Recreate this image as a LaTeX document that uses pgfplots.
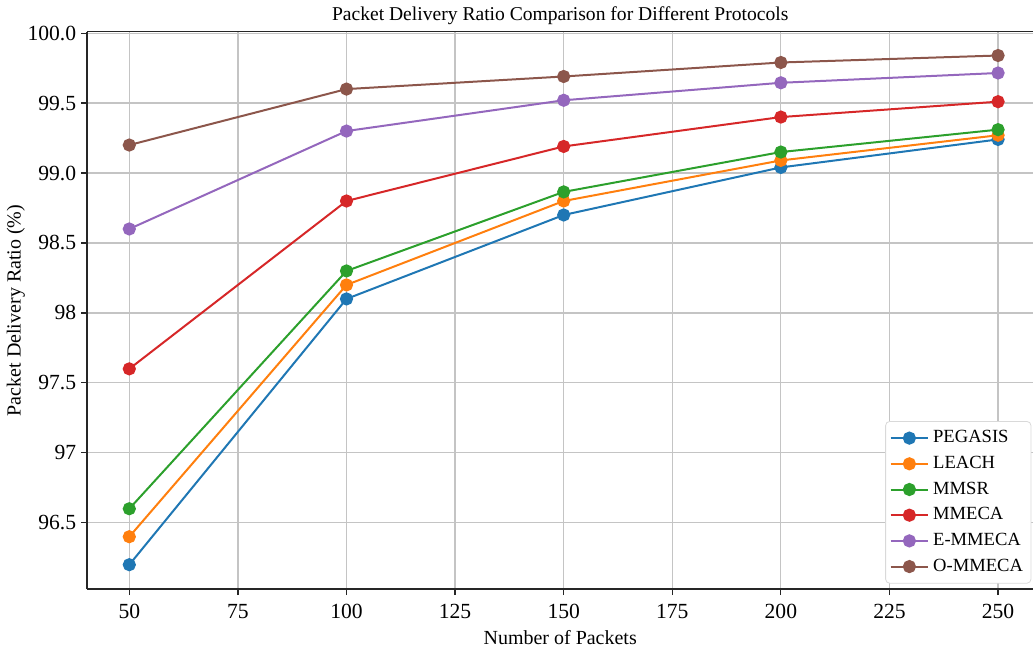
\documentclass[border=0pt]{standalone}
\usepackage{pgfplots}
\pgfplotsset{compat=1.18}
\usepackage{fontspec}
\setmainfont{Liberation Serif}
\definecolor{c1}{HTML}{1F77B4}
\definecolor{c2}{HTML}{FF7F0E}
\definecolor{c3}{HTML}{2CA02C}
\definecolor{c4}{HTML}{D62728}
\definecolor{c5}{HTML}{9467BD}
\definecolor{c6}{HTML}{8C564B}
\definecolor{gridc}{HTML}{C4C4C4}

\begin{document}
\begin{tikzpicture}
\begin{axis}[
    width=473.5pt, height=279pt,
    scale only axis,
    xmin=40.3, xmax=258.1,
    ymin=96.025, ymax=100.01,
    axis x line*=box, axis y line*=left,
    axis line style={black!85, line width=0.75pt},
    xtick={50,75,...,250},
    ytick={96.5,97,97.5,98,98.5,99,99.5,100},
    yticklabels={96.5,97,97.5,98,98.5,99.0,99.5,100.0},
    tick align=outside, tick pos=left,
    major tick length=3pt,
    tick style={black!85, line width=0.6pt},
    grid=major,
    major grid style={gridc, line width=0.6pt},
    tick label style={font=\fontsize{10.8}{13}\selectfont},
    /pgf/number format/assume math mode=true,
    xticklabel style={yshift=-1pt},
    yticklabel style={xshift=1pt},
    xlabel={Number of Packets},
    ylabel={Packet Delivery Ratio (\%)},
    label style={font=\fontsize{10}{12}\selectfont},
    xlabel style={yshift=1pt},
    ylabel style={yshift=-5.5pt},
    title={Packet Delivery Ratio Comparison for Different Protocols},
    title style={font=\fontsize{9.8}{12}\selectfont, yshift=-6pt},
    every axis plot/.append style={line width=1pt, mark=*, mark size=2.8pt},
    legend style={at={(0.998,0.01)}, anchor=south east, draw=black!15, rounded corners=2pt,
        font=\fontsize{9.3}{11}\selectfont, row sep=1.2pt, inner xsep=2pt, inner ysep=2.5pt},
    legend cell align=left,
    legend image code/.code={
        \draw[mark repeat=2, mark phase=2] plot coordinates {(0cm,0cm) (0.33cm,0cm) (0.66cm,0cm)};
    },
]
\addplot[c1, mark options={fill=c1}] coordinates {(50,96.2) (100,98.1) (150,98.70) (200,99.04) (250,99.24)};
\addlegendentry{PEGASIS}
\addplot[c2, mark options={fill=c2}] coordinates {(50,96.4) (100,98.2) (150,98.80) (200,99.09) (250,99.27)};
\addlegendentry{LEACH}
\addplot[c3, mark options={fill=c3}] coordinates {(50,96.6) (100,98.3) (150,98.865) (200,99.15) (250,99.31)};
\addlegendentry{MMSR}
\addplot[c4, mark options={fill=c4}] coordinates {(50,97.6) (100,98.8) (150,99.19) (200,99.40) (250,99.51)};
\addlegendentry{MMECA}
\addplot[c5, mark options={fill=c5}] coordinates {(50,98.6) (100,99.3) (150,99.52) (200,99.645) (250,99.715)};
\addlegendentry{E-MMECA}
\addplot[c6, mark options={fill=c6}] coordinates {(50,99.2) (100,99.6) (150,99.69) (200,99.79) (250,99.84)};
\addlegendentry{O-MMECA}
\end{axis}
\end{tikzpicture}
\end{document}
